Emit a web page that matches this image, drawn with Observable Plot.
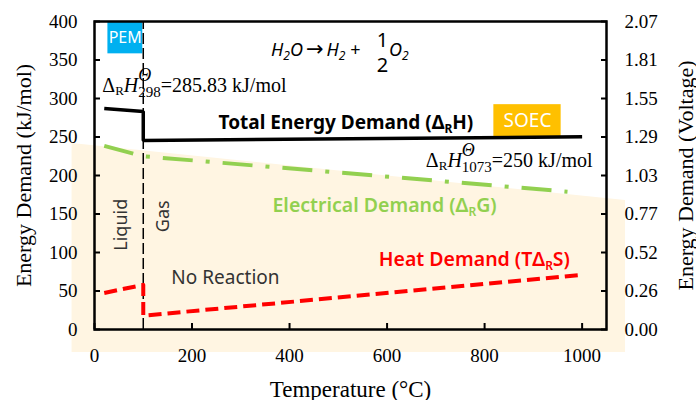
<!DOCTYPE html>
<html><head><meta charset="utf-8">
<script src="https://cdn.jsdelivr.net/npm/d3@7"></script>
<script src="https://cdn.jsdelivr.net/npm/@observablehq/plot@0.6"></script>
<style>body{margin:0;background:#fff}</style>
</head><body><div id="chart"></div>
<script>
// ---- data ----
const tempTicks = [0, 200, 400, 600, 800, 1000];
const energyTicks = [0, 50, 100, 150, 200, 250, 300, 350, 400];
const voltLabels = ["0.00", "0.26", "0.52", "0.77", "1.03", "1.29", "1.55", "1.81", "2.07"];

const totalT = [20, 100, 100, 1000];
const totalE = [287, 283, 245.5, 250.3];
const elecT = [20, 100, 970];
const elecE = [238.5, 225, 179];
const heatT = [20, 100, 100, 1000];
const heatE = [47.5, 58, 18, 71];
const phaseT = [100];

// shaded region (°C, kJ/mol)
const bgT = [-46, 1089];
const bgTop = [241.6, 167.5];
const bgBottom = -30;

const boxes = [
  {label: "PEM", x1: 27.5, x2: 99, y1: 358, y2: 400, fill: "#00B0F0", cx: 63, cy: 379, size: 16},
  {label: "SOEC", x1: 819, x2: 957, y1: 249, y2: 292, fill: "#FFC000", cx: 888, cy: 270.5, size: 19}
];

const serifNotes = [
  {text: "ΔRHΘ298=285.83 kJ/mol", t: 16, e: 308},
  {text: "ΔRHΘ1073=250 kJ/mol", t: 679.5, e: 210.4}
];
const equation = [{text: "H2O → H2 + 1/2 O2", t: 362, e: 355.5}];
const boldNotes = [{text: "Total Energy Demand (ΔRH)", t: 254.5, e: 261, color: "#000000"}];
const seriesNotes = [
  {text: "Electrical Demand (ΔRG)", t: 365, e: 152, color: "#92D050"},
  {text: "Heat Demand (TΔRS)", t: 583, e: 83, color: "#FF0000"}
];
const plainNotes = [{text: "No Reaction", t: 157.6, e: 59.7}];
const phaseNotes = [{text: "Liquid", t: 55, e: 136}, {text: "Gas", t: 141, e: 147}];

const rows = (xs, ys) => xs.map((t, i) => ({t, e: ys[i]}));
const SANS = "'Noto Sans', 'Open Sans', sans-serif";
const SERIF = "'Liberation Serif', 'Times New Roman', serif";

const svg = Plot.plot({
  width: 696, height: 400,
  marginLeft: 94, marginRight: 90, marginTop: 21, marginBottom: 71,
  x: {domain: [0, 1050]},
  y: {domain: [0, 400]},
  style: {fontFamily: SERIF, fontSize: "19px", color: "black", background: "white", overflow: "visible"},
  marks: [
    Plot.areaY(bgT.map((t, i) => ({t, top: bgTop[i]})), {x: "t", y1: bgBottom, y2: "top", fill: "#FFF5E2"}),
    Plot.rect(boxes, {x1: "x1", x2: "x2", y1: "y1", y2: "y2", fill: "fill"}),
    Plot.ruleX(phaseT, {y1: 0, y2: 400, stroke: "black", strokeWidth: 1.5, strokeDasharray: "11,4"}),
    Plot.line(rows(totalT, totalE), {x: "t", y: "e", stroke: "black", strokeWidth: 3.5, strokeLinecap: "butt", strokeLinejoin: "miter"}),
    Plot.line(rows(elecT, elecE), {x: "t", y: "e", stroke: "#92D050", strokeWidth: 4, strokeDasharray: "30,13,4,13", strokeLinecap: "butt"}),
    Plot.line(rows(heatT, heatE), {x: "t", y: "e", stroke: "#FF0000", strokeWidth: 4, strokeDasharray: "13,6", strokeLinecap: "butt"}),
    Plot.frame({stroke: "black", strokeWidth: 2.5}),
    Plot.axisX({ticks: tempTicks, tickFormat: "d", tickSize: -6, tickPadding: 25, strokeWidth: 2, label: null, fontSize: 19}),
    Plot.axisY({ticks: energyTicks, tickFormat: "d", tickSize: -6, tickPadding: 23, strokeWidth: 2, label: null, fontSize: 19}),
    Plot.axisY({anchor: "right", ticks: energyTicks, tickFormat: d => voltLabels[energyTicks.indexOf(d)], tickSize: -6, tickPadding: 24, strokeWidth: 2, label: null, fontSize: 19}),
    // box labels
    Plot.text(boxes, {x: "cx", y: "cy", text: "label", fill: "white", fontFamily: SANS, fontSize: "size", lineAnchor: "middle"}),
    // annotations
    Plot.text(serifNotes, {x: "t", y: "e", text: "text", textAnchor: "start", lineAnchor: "bottom", fontSize: 20, fontFamily: SERIF}),
    Plot.text(equation, {x: "t", y: "e", text: "text", textAnchor: "start", lineAnchor: "bottom", fontSize: 18, fontFamily: SANS}),
    Plot.text(boldNotes, {x: "t", y: "e", text: "text", fill: "color", textAnchor: "start", lineAnchor: "bottom", fontSize: 19, fontWeight: "bold", fontFamily: SANS}),
    Plot.text(seriesNotes, {x: "t", y: "e", text: "text", fill: "color", textAnchor: "start", lineAnchor: "bottom", fontSize: 19.5, fontWeight: 600, fontFamily: SANS}),
    Plot.text(plainNotes, {x: "t", y: "e", text: "text", fill: "#333333", textAnchor: "start", lineAnchor: "bottom", fontSize: 19, fontFamily: SANS}),
    Plot.text(phaseNotes, {x: "t", y: "e", text: "text", fill: "#333333", rotate: -90, lineAnchor: "middle", fontSize: 18, fontFamily: SANS}),
    // axis titles
    Plot.text(["Energy Demand (kJ/mol)"], {text: d => d, frameAnchor: "left", dx: -71, rotate: -90, textAnchor: "middle", lineAnchor: "middle", fontSize: 22, fontFamily: SERIF}),
    Plot.text(["Energy Demand (Voltage)"], {text: d => d, frameAnchor: "right", dx: 79, rotate: -90, textAnchor: "middle", lineAnchor: "middle", fontSize: 22, fontFamily: SERIF}),
    Plot.text(["Temperature (°C)"], {text: d => d, frameAnchor: "bottom", dy: 67, textAnchor: "middle", lineAnchor: "bottom", fontSize: 23, fontFamily: SERIF})
  ]
});
document.getElementById("chart").append(svg);

// rich text (sub/superscripts) built as tspans
const ARROW = "'DejaVu Sans', sans-serif";
const rich = {
  "ΔRHΘ298=285.83 kJ/mol": [["Δ"], ["R", {size: 13, dy: 3}], ["H", {italic: 1, dy: -3}], ["Θ", {italic: 1, size: 18, dy: -11}], ["298", {size: 15, dy: 16, back: 1}], ["=285.83 kJ/mol", {dy: -5}]],
  "ΔRHΘ1073=250 kJ/mol": [["Δ"], ["R", {size: 13, dy: 3}], ["H", {italic: 1, dy: -3}], ["Θ", {italic: 1, size: 18, dy: -11}], ["1073", {size: 15, dy: 16, back: 1}], ["=250 kJ/mol", {dy: -5}]],
  "H2O → H2 + 1/2 O2": [["H", {italic: 1}], ["2", {size: 12, dy: 4, italic: 1}], ["O", {italic: 1, dy: -4}], ["→", {family: ARROW, size: 21, dx: 3}], ["H", {italic: 1, dx: 3}], ["2", {size: 12, dy: 4, italic: 1}], ["+", {dy: -4, dx: 5}], ["1", {size: 20, dy: -9, dx: 16}], ["2", {size: 20, dy: 25, back: 1}], ["O", {italic: 1, dy: -16, dx: 1}], ["2", {size: 12, dy: 4, italic: 1}]],
  "Total Energy Demand (ΔRH)": [["Total Energy Demand (Δ"], ["R", {size: 12, dy: 4}], ["H)", {dy: -4}]],
  "Electrical Demand (ΔRG)": [["Electrical Demand (Δ"], ["R", {size: 12, dy: 4}], ["G)", {dy: -4}]],
  "Heat Demand (TΔRS)": [["Heat Demand (TΔ"], ["R", {size: 12, dy: 4}], ["S)", {dy: -4}]]
};
d3.select(svg).selectAll("text").each(function () {
  const segs = rich[this.textContent];
  if (!segs) return;
  this.textContent = "";
  let prev = null;
  for (const [t, o = {}] of segs) {
    const ts = document.createElementNS("http://www.w3.org/2000/svg", "tspan");
    ts.textContent = t;
    if (o.size) ts.setAttribute("font-size", o.size);
    if (o.family) ts.setAttribute("font-family", o.family);
    ts.setAttribute("font-style", o.italic ? "italic" : "normal");
    if (o.dy) ts.setAttribute("dy", o.dy);
    this.appendChild(ts);
    let dx = o.dx || 0;
    if (o.back && prev) dx -= prev.getComputedTextLength();
    if (dx) ts.setAttribute("dx", dx);
    prev = ts;
  }
});
</script>
</body></html>
